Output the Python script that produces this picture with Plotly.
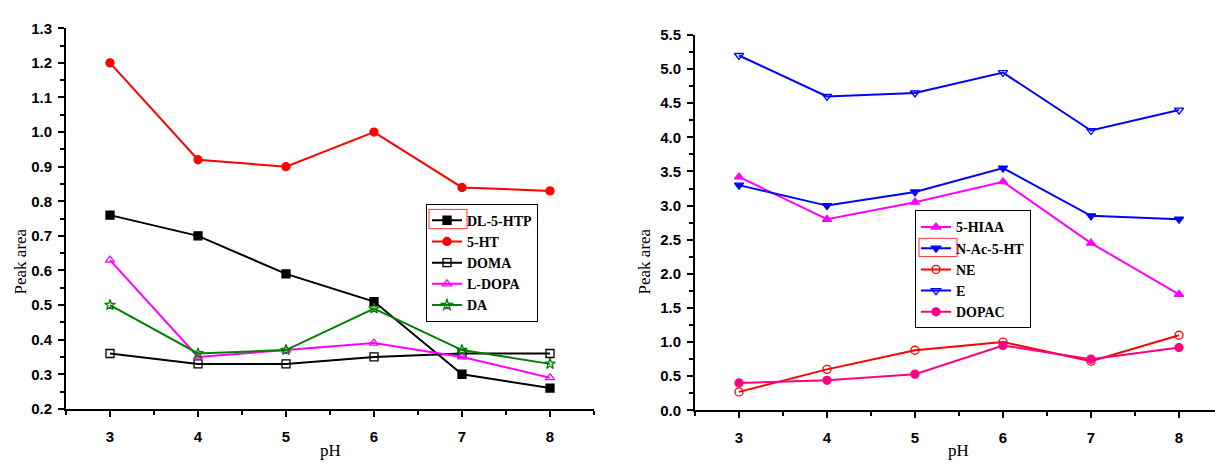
import plotly.graph_objects as go

ph = [3, 4, 5, 6, 7, 8]

# Left panel
dl_5_htp = [0.76, 0.70, 0.59, 0.51, 0.30, 0.26]
ht_5 = [1.20, 0.92, 0.90, 1.00, 0.84, 0.83]
doma = [0.36, 0.33, 0.33, 0.35, 0.36, 0.36]
l_dopa = [0.63, 0.35, 0.37, 0.39, 0.35, 0.29]
da = [0.50, 0.36, 0.37, 0.49, 0.37, 0.33]

# Right panel
hiaa_5 = [3.42, 2.80, 3.05, 3.35, 2.45, 1.70]
n_ac_5_ht = [3.30, 3.00, 3.20, 3.55, 2.85, 2.80]
ne = [0.27, 0.60, 0.88, 1.00, 0.72, 1.10]
e = [5.20, 4.60, 4.65, 4.95, 4.10, 4.40]
dopac = [0.40, 0.44, 0.53, 0.95, 0.75, 0.92]

W, H = 1215, 466

fig = go.Figure()

def add(y, name, color, symbol, xa, ya, legend):
    fig.add_trace(go.Scatter(
        x=ph, y=y, name=name, mode="lines+markers",
        line=dict(color=color, width=2),
        marker=dict(color=color, symbol=symbol, size=8,
                    line=dict(color=color, width=1.3)),
        xaxis=xa, yaxis=ya, legend=legend))

add(dl_5_htp, "DL-5-HTP", "black", "square", "x", "y", "legend")
add(ht_5, "5-HT", "#ff0000", "circle", "x", "y", "legend")
add(doma, "DOMA", "black", "square-open", "x", "y", "legend")
add(l_dopa, "L-DOPA", "#ff00ff", "triangle-up-open", "x", "y", "legend")
add(da, "DA", "#008000", "star-open", "x", "y", "legend")

add(hiaa_5, "5-HIAA", "#ff00ff", "triangle-up", "x2", "y2", "legend2")
add(n_ac_5_ht, "N-Ac-5-HT", "#0000ff", "triangle-down", "x2", "y2", "legend2")
add(ne, "NE", "#ff0000", "circle-open", "x2", "y2", "legend2")
add(e, "E", "#0000ff", "triangle-down-open", "x2", "y2", "legend2")
add(dopac, "DOPAC", "#ff0080", "circle", "x2", "y2", "legend2")

tickfont = dict(family="Liberation Sans, Arial", size=15, color="black", weight="bold")

def xax(domain, anchor, rng):
    return dict(domain=domain, anchor=anchor, range=rng, showgrid=False, zeroline=False,
                showline=True, linecolor="black", linewidth=2,
                ticks="outside", ticklen=6, tickwidth=2, tickcolor="black",
                tickmode="array", tickvals=ph, ticktext=[str(v) for v in ph],
                tickfont=tickfont, ticklabelstandoff=7,
                minor=dict(ticks="outside", ticklen=4, tickwidth=1.5, tickcolor="black", dtick=0.5, showgrid=False))

def yax(domain, anchor, rng, dtick, mdtick, fmt):
    return dict(domain=domain, anchor=anchor, range=rng, showgrid=False, zeroline=False,
                showline=True, linecolor="black", linewidth=2,
                ticks="outside", ticklen=6, tickwidth=2, tickcolor="black",
                dtick=dtick, tick0=0, tickformat=fmt, tickfont=tickfont, ticklabelstandoff=3,
                minor=dict(ticks="outside", ticklen=4, tickwidth=1.5, tickcolor="black", dtick=mdtick, showgrid=False))

legfont = dict(family="Liberation Serif, Times New Roman", size=14, color="black", weight="bold")

fig.update_layout(
    width=W, height=H,
    margin=dict(l=0, r=0, t=0, b=0),
    paper_bgcolor="white", plot_bgcolor="white",
    showlegend=True,
    xaxis=xax([66 / W, 594 / W], "y", [2.5, 8.5]),
    yaxis=yax([1 - 415 / H, 1 - 20 / H], "x", [0.2, 1.3], 0.1, 0.05, ".1f"),
    xaxis2=xax([695 / W, 1.0], "y2", [2.5, 2.5 + 520 / 88]),
    yaxis2=yax([1 - 416.5 / H, 1 - 27 / H], "x2", [0, 5.5], 0.5, 0.25, ".1f"),
    legend=dict(x=426 / W, y=1 - 202 / H, xanchor="left", yanchor="top",
                bgcolor="rgba(0,0,0,0)", bordercolor="black", borderwidth=1,
                font=legfont, tracegroupgap=0, itemwidth=30),
    legend2=dict(x=915 / W, y=1 - 209 / H, xanchor="left", yanchor="top",
                 bgcolor="rgba(0,0,0,0)", bordercolor="black", borderwidth=1,
                 font=legfont, tracegroupgap=0, itemwidth=30),
)

# thin red selection boxes seen around the first legend symbols in the reference
fig.add_shape(type="rect", xref="paper", yref="paper",
              x0=429 / W, x1=467 / W, y0=1 - 228 / H, y1=1 - 208 / H,
              line=dict(color="#ff3030", width=1))
fig.add_shape(type="rect", xref="paper", yref="paper",
              x0=919 / W, x1=957 / W, y0=1 - 257 / H, y1=1 - 238 / H,
              line=dict(color="#ff3030", width=1))

axis_title_font = dict(family="Liberation Serif, Times New Roman", size=17, color="black")
for txt, x, y, ang in [("Peak area", 20, 262, -90), ("Peak area", 644, 262, -90),
                       ("pH", 330, 458, 0), ("pH", 958, 458, 0)]:
    fig.add_annotation(text=txt, x=x / W, y=1 - y / H, xref="paper", yref="paper",
                       xanchor="center", yanchor="middle",
                       textangle=ang, showarrow=False, font=axis_title_font)

fig.write_html("out.html")
